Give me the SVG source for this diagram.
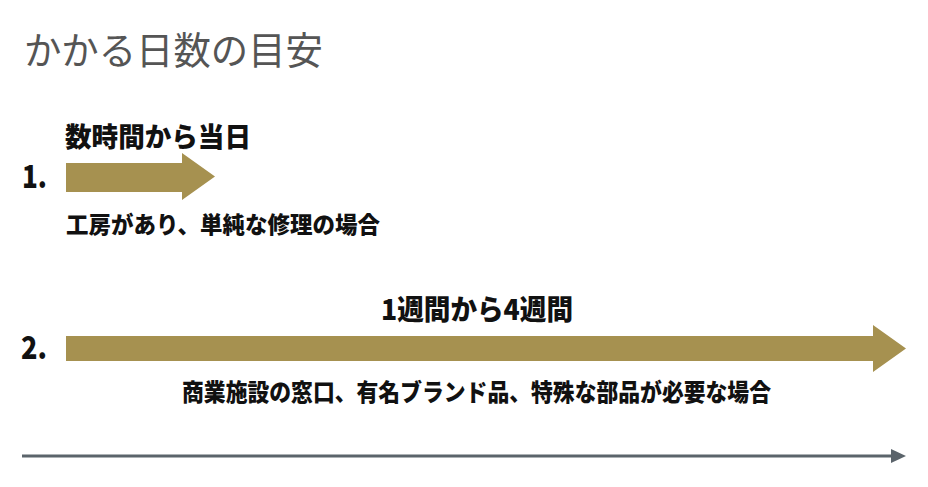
<svg xmlns="http://www.w3.org/2000/svg" width="928" height="487" viewBox="0 0 928 487">
  <style>
    .title{font-family:"Noto Sans CJK JP","Noto Sans",sans-serif;font-size:38px;fill:#555555;}
    .b{font-family:"Noto Sans CJK JP","Noto Sans",sans-serif;font-weight:900;fill:#111111;}
    .gold{fill:#A69150;}
  </style>
  <rect width="928" height="487" fill="#FFFFFF"/>
  <text class="title" x="24" y="64" textLength="299" lengthAdjust="spacingAndGlyphs">かかる日数の目安</text>

  <g id="item1">
    <text class="b" x="22" y="188" font-size="31" textLength="25" lengthAdjust="spacingAndGlyphs">1.</text>
    <text class="b" x="65" y="147" font-size="27" textLength="186" lengthAdjust="spacingAndGlyphs">数時間から当日</text>
    <path class="gold" d="M66,163 L182,163 L182,153 L215,176.5 L182,200 L182,192 L66,192 Z"/>
    <text class="b" x="66" y="233" font-size="23" textLength="314" lengthAdjust="spacingAndGlyphs">工房があり、単純な修理の場合</text>
  </g>

  <g id="item2">
    <text class="b" x="21" y="359" font-size="31" textLength="26" lengthAdjust="spacingAndGlyphs">2.</text>
    <text class="b" x="381" y="320" font-size="28" textLength="192" lengthAdjust="spacingAndGlyphs">1週間から4週間</text>
    <path class="gold" d="M66,336 L873,336 L873,325 L906,348.5 L873,372 L873,361 L66,361 Z"/>
    <text class="b" x="182" y="401" font-size="24" textLength="589" lengthAdjust="spacingAndGlyphs">商業施設の窓口、有名ブランド品、特殊な部品が必要な場合</text>
  </g>

  <g id="connectors">
    <line x1="22" y1="456" x2="892" y2="456" stroke="#5B646B" stroke-width="3"/>
    <path d="M891,449 L906,456 L891,463 Z" fill="#5B646B"/>
  </g>
</svg>
